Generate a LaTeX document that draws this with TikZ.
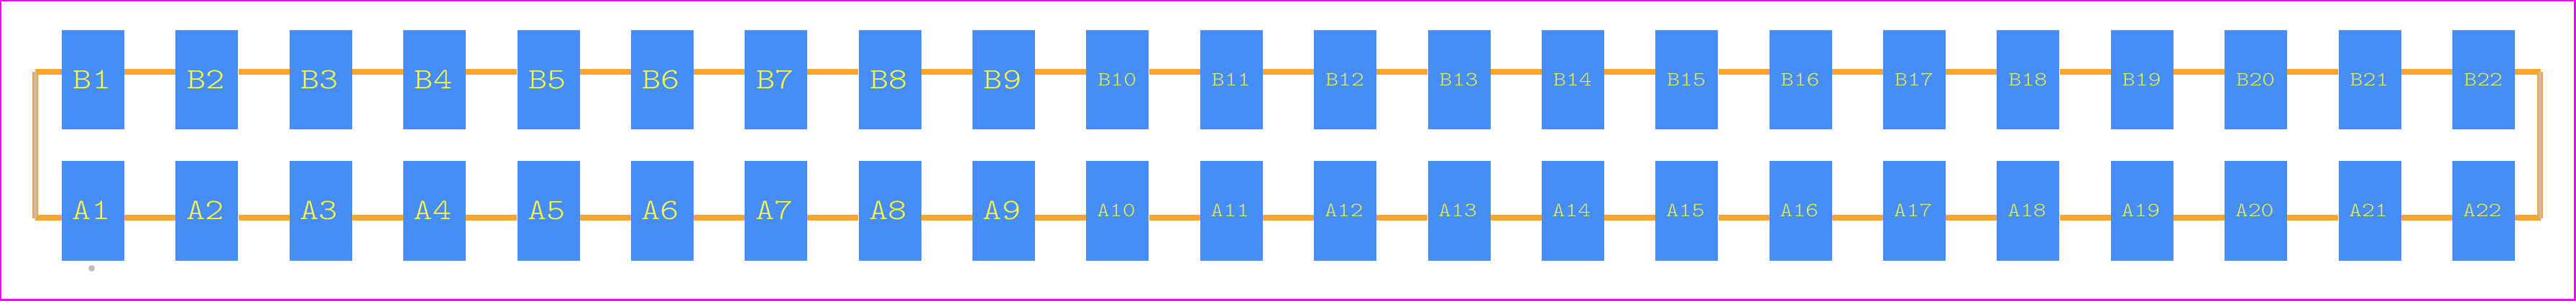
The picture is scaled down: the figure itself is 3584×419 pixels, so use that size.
\documentclass[tikz,border=0pt]{standalone}
\usepackage{fontspec}
\newfontfamily\padfontL{Latin Modern Mono Light}[FakeStretch=1.22]
\newfontfamily\padfontS{Latin Modern Mono Light}[FakeStretch=1.22]
\definecolor{padblue}{HTML}{478DF7}
\definecolor{traceorange}{HTML}{FFA52C}
\definecolor{silk}{HTML}{BEBEBE}
\definecolor{frame}{HTML}{FF00FF}
\definecolor{lab}{HTML}{FFFF40}
\definecolor{labsmall}{HTML}{E6EE60}
\tikzset{
  pad/.style={rectangle,fill=padblue,draw=none,inner sep=0pt,minimum width=87pt},
  padB/.style={pad,minimum height=138pt},
  padA/.style={pad,minimum height=139pt},
  trace/.style={draw=traceorange,line width=8pt,line cap=butt},
  silkline/.style={draw=silk,line width=4pt,line cap=butt},
  biglab/.style={anchor=base,inner sep=0pt,text=lab,font=\padfontL\fontsize{41}{41}\selectfont},
  smalllab/.style={anchor=base,inner sep=0pt,text=labsmall,font=\padfontS\fontsize{28}{28}\selectfont},
  dotmark/.style={circle,fill=silk,draw=none,inner sep=0pt,minimum size=9pt}
}
\begin{document}
\begin{tikzpicture}[x=1pt,y=-1pt]
\useasboundingbox (0,0) rectangle (3584,419);
\fill[white] (0,0) rectangle (3584,419);
\draw[frame,line width=2.4pt] (1.2,1.2) rectangle (3582.4,417.4);
% pads
\foreach \i in {1,...,22}{
  \pgfmathsetmacro{\px}{129.5+158.38*(\i-1)}
  \node[padB] (B\i) at (\px,111) {};
  \node[padA] (A\i) at (\px,293.5) {};
}
% free ends of the traces
\coordinate (TL) at (49,100);
\coordinate (BL) at (49,303);
\coordinate (TR) at (3535,100);
\coordinate (BR) at (3535,303);
\coordinate (VLT) at (49,100);
\coordinate (VLB) at (49,304);
\coordinate (VRT) at (3534,100);
\coordinate (VRB) at (3534,304);
% traces
\draw[trace] (TL) -- (TL -| B1.west);
\draw[trace] (BL) -- (BL -| A1.west);
\draw[trace] (TR -| B22.east) -- (TR);
\draw[trace] (BR -| A22.east) -- (BR);
\foreach \i [remember=\i as \j (initially 1)] in {2,...,22}{
  \draw[trace] (TL -| B\j.east) -- (TL -| B\i.west);
  \draw[trace] (BL -| A\j.east) -- (BL -| A\i.west);
}
\draw[trace] (VLT) -- (VLB);
\draw[trace] (VRT) -- (VRB);
\draw[silkline] (VLT) -- (VLB);
\draw[silkline] (VRT) -- (VRB);
% labels
\foreach \i in {1,...,9}{
  \pgfmathsetmacro{\px}{129.5+158.38*(\i-1)}
  \node[biglab] (LB\i) at (\px-1.5,124) {B\i};
  \node[biglab] (LA\i) at (\px-2.5,306) {A\i};
}
\foreach \i in {10,...,22}{
  \pgfmathsetmacro{\px}{129.5+158.38*(\i-1)}
  \node[smalllab] (LB\i) at (\px-0.5,120) {B\i};
  \node[smalllab] (LA\i) at (\px-2,302) {A\i};
}
\node[dotmark] (pin1) at (127.5,373.5) {};
\end{tikzpicture}
\end{document}
